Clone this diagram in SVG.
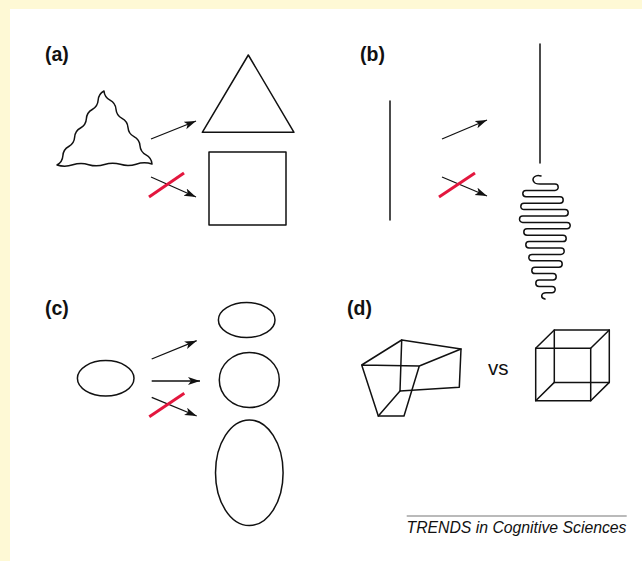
<svg xmlns="http://www.w3.org/2000/svg" width="642" height="561" viewBox="0 0 642 561">
<defs>
<style>
.lbl{font-family:"Liberation Sans",Arial,sans-serif;font-weight:bold;font-size:19.5px;fill:#111}
.shape{fill:none;stroke:#111;stroke-width:1.5;stroke-linejoin:round;stroke-linecap:round}
.arr{fill:none;stroke:#111;stroke-width:1.3;marker-end:url(#ah)}
.red{stroke:#E3173E;stroke-width:3;stroke-linecap:butt}
</style>
<marker id="ah" markerUnits="userSpaceOnUse" markerWidth="14" markerHeight="10" refX="12" refY="4" orient="auto" viewBox="0 0 14 10">
<path d="M0,0 L12,4 L0,8 L3,4 z" fill="#111"/>
</marker>
</defs>
<rect x="0" y="0" width="642" height="561" fill="#FEF9D5"/>
<rect x="10" y="9" width="632" height="552" fill="#FFFFFF"/>

<g id="panel-a">
<text class="lbl" x="45" y="61">(a)</text>
<path id="wavy-triangle" class="shape" stroke-width="1.7" d="M104,91 Q98.53,94.02 98.125,100.25 Q97.72,106.49 92.25,109.5 Q86.78,112.52 86.375,118.75 Q85.97,124.99 80.5,128 Q75.03,131.02 74.625,137.25 Q74.22,143.49 68.75,146.5 Q63.28,149.52 62.875,155.75 Q62.47,161.99 57,165 Q64.92,167.4 72.83,164.83 Q80.75,162.25 88.67,164.67 Q96.58,167.1 104.5,164.5 Q112.42,161.9 120.33,164.33 Q128.25,166.75 136.17,164.17 Q144.08,161.6 152,164 Q151.51,157.79 146,154.875 Q140.49,151.96 140,145.75 Q139.51,139.54 134,136.625 Q128.49,133.71 128,127.5 Q127.51,121.29 122,118.375 Q116.49,115.46 116,109.25 Q115.51,103.04 110,100.125 Q104.49,97.21 104,91 Z"/>
<polygon id="triangle" class="shape" points="248.3,55 202.3,132.3 294,132.3"/>
<rect id="square" class="shape" x="209" y="152" width="77" height="73"/>
</g>

<g id="panel-b">
<text class="lbl" x="360" y="61">(b)</text>
<line id="short-line" class="shape" x1="390" y1="101" x2="390" y2="220" stroke="#333"/>
<line id="straight-line" class="shape" x1="540" y1="44" x2="540" y2="163"/>
<path id="squiggle" class="shape" stroke-width="1.8" d="M541,176 C536,174 531,178 534,182 C535,184 538,184 540,184 H555 A3.2,3.2 0 0 1 555,190.4 H526 A3.2,3.2 0 0 0 526,196.8 H560 A3.2,3.2 0 0 1 560,203.2 H524 A3.2,3.2 0 0 0 524,209.6 H565 A3.2,3.2 0 0 1 565,216 H522.7 A3.2,3.2 0 0 0 522.7,222.4 H567 A3.2,3.2 0 0 1 567,228.8 H527 A3.2,3.2 0 0 0 527,235.2 H563 A3.2,3.2 0 0 1 563,241.6 H529 A3.2,3.2 0 0 0 529,248 H561 A3.2,3.2 0 0 1 561,254.4 H532 A3.2,3.2 0 0 0 532,260.8 H559 A3.2,3.2 0 0 1 559,267.2 H535 A3.2,3.2 0 0 0 535,273.6 H553 A3.2,3.2 0 0 1 553,280 H539 A3.2,3.2 0 0 0 539,286.4 H552 A3.2,3.2 0 0 1 552,292.8 H546 C541,293 540,298 545,299"/>
</g>

<g id="panel-c">
<text class="lbl" x="45" y="315">(c)</text>
<ellipse id="ellipse-src" class="shape" cx="105.7" cy="378.3" rx="28.3" ry="17.7"/>
<ellipse id="ellipse-flat" class="shape" cx="246.7" cy="320" rx="28.3" ry="17.5"/>
<ellipse id="circle" class="shape" cx="249.3" cy="380" rx="30" ry="27.5"/>
<ellipse id="ellipse-tall" class="shape" cx="249.3" cy="472.7" rx="33.8" ry="52.8"/>
</g>

<g id="panel-d">
<text class="lbl" x="347" y="315">(d)</text>
<g id="distorted-cube" class="shape">
<polyline points="419.3,366 361.7,365 401.7,340 461,349 419.3,366 404,416 378.3,416 361.7,365"/>
<polyline points="401.7,340 400,391 459.3,387.3 461,349"/>
<line x1="378.3" y1="416" x2="400" y2="391"/>
</g>
<text x="488" y="375" font-family="'Liberation Sans',Arial,sans-serif" font-size="20.5" fill="#111">vs</text>
<g id="necker-cube" class="shape">
<rect x="535.7" y="348.3" width="55" height="52.4"/>
<rect x="554.3" y="330" width="55" height="52.4"/>
<line x1="535.7" y1="348.3" x2="554.3" y2="330"/>
<line x1="590.7" y1="348.3" x2="609.3" y2="330"/>
<line x1="535.7" y1="400.7" x2="554.3" y2="382.4"/>
<line x1="590.7" y1="400.7" x2="609.3" y2="382.4"/>
</g>
</g>

<g id="connectors">
<line class="arr" x1="151" y1="139" x2="196" y2="121"/>
<line class="arr" x1="151" y1="177" x2="196" y2="197"/>
<line class="red" x1="149" y1="197" x2="184" y2="173"/>
<line class="arr" x1="442" y1="139" x2="487" y2="120"/>
<line class="arr" x1="442" y1="177" x2="487" y2="196"/>
<line class="red" x1="439" y1="197" x2="475" y2="173"/>
<line class="arr" x1="151.7" y1="359" x2="196.7" y2="340.7"/>
<line class="arr" x1="151.7" y1="381" x2="200" y2="381"/>
<line class="arr" x1="151.7" y1="397.3" x2="196.7" y2="416"/>
<line class="red" x1="149.3" y1="416.7" x2="184.3" y2="393.3"/>
</g>

<g id="footer">
<line x1="406.7" y1="516" x2="626.7" y2="516" stroke="#777" stroke-width="1.2"/>
<text x="406.5" y="533.3" font-family="'Liberation Sans',Arial,sans-serif" font-style="italic" font-size="15.8" fill="#111" textLength="220">TRENDS in Cognitive Sciences</text>
</g>
</svg>
